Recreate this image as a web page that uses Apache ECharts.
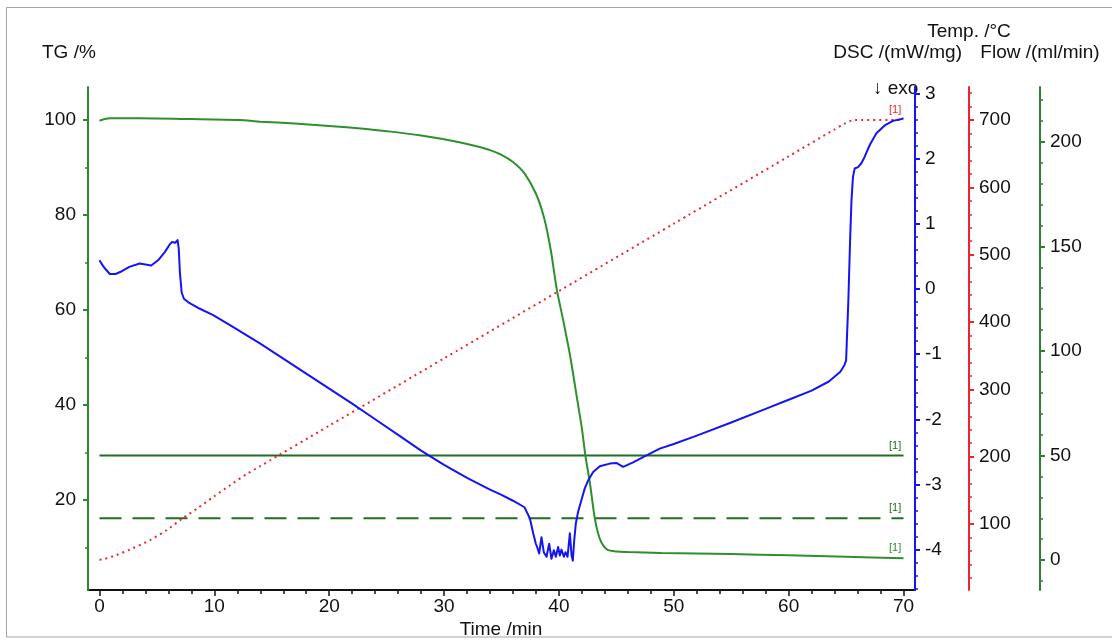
<!DOCTYPE html>
<html>
<head>
<meta charset="utf-8">
<script src="https://cdn.jsdelivr.net/npm/echarts@6/dist/echarts.min.js"></script>
<style>
  html, body { margin: 0; padding: 0; background: #ffffff; }
  #chart { width: 1112px; height: 644px; }
</style>
</head>
<body>
<div id="chart"></div>
<script>
// ---------- measured curves (time in min) ----------
// TG mass curve, %
const tgTime = [0, 0.9, 3.5, 7.9, 12.2, 14, 17, 20, 23, 25, 28, 30, 32, 33, 34, 35, 36, 37, 38, 38.7,
  39.3, 39.8, 40.4, 41.0, 41.6, 42.0, 42.3, 42.7, 43.1, 43.4, 43.7, 44.2, 45.0, 46, 48.9, 52, 55, 60, 65, 70];
const tgMass = [99.9, 100.4, 100.4, 100.25, 100.05, 99.7, 99.3, 98.8, 98.2, 97.7, 96.8, 96.0, 95.0, 94.4, 93.7, 92.7, 91.2, 88.8, 84.5, 79.5,
  72.5, 64.5, 57.5, 50.0, 41.0, 35.0, 29.4, 23.5, 16.4, 13.0, 11.0, 9.5, 9.1, 9.0, 8.8, 8.7, 8.6, 8.3, 8.0, 7.7];

// DSC heat flow, mW/mg
const dscTime = [0.0, 0.25, 0.5, 0.9, 1.4, 1.8, 2.6, 3.5, 4.5, 5.1, 5.7, 6.1, 6.3, 6.45, 6.6, 6.8, 6.9, 7.0, 7.15, 7.35,
  7.7, 8.7, 9.9, 11.4, 14, 16, 18, 20, 22, 24, 26, 28, 30, 32, 34, 35, 36, 37, 37.47, 37.76,
  37.99, 38.1, 38.28, 38.48, 38.68, 38.92, 39.15, 39.35, 39.56, 39.73, 39.93, 40.08, 40.22, 40.43, 40.57, 40.75, 40.95, 41.1, 41.21, 41.33,
  41.47, 41.67, 41.82, 41.96, 42.25, 42.54, 42.98, 43.56, 44.43, 45.0, 45.59, 46.46, 47.33, 48.78, 50, 52, 55, 58, 60, 62,
  63.5, 64.5, 64.85, 65.0, 65.2, 65.35, 65.47, 65.6, 65.75, 66.04, 66.33, 66.62, 67.06, 67.64, 68.36, 69.08, 69.82, 70.0];
const dscValue = [0.44, 0.37, 0.31, 0.23, 0.23, 0.26, 0.34, 0.39, 0.36, 0.44, 0.57, 0.68, 0.72, 0.74, 0.71, 0.75, 0.62, 0.26, -0.05, -0.15,
  -0.2, -0.30, -0.40, -0.56, -0.84, -1.07, -1.30, -1.53, -1.76, -2.00, -2.24, -2.48, -2.70, -2.90, -3.08, -3.16, -3.25, -3.35, -3.52, -3.75,
  -3.91, -3.96, -4.06, -3.81, -4.04, -4.11, -3.91, -4.14, -4.01, -4.11, -3.96, -4.09, -4.00, -4.11, -4.04, -4.11, -3.75, -4.09, -4.17, -3.86,
  -3.60, -3.42, -3.40, -3.24, -3.06, -2.94, -2.81, -2.72, -2.68, -2.67, -2.73, -2.66, -2.58, -2.45, -2.38, -2.25, -2.05, -1.84, -1.70, -1.56,
  -1.42, -1.27, -1.17, -1.10, -0.17, 0.75, 1.36, 1.72, 1.85, 1.87, 1.93, 2.03, 2.21, 2.39, 2.51, 2.58, 2.61, 2.62];

// furnace temperature, °C
const tempTime = [0, 0.3, 1.5, 2.9, 4.4, 5.85, 7.2, 8.5, 9.9, 11.4, 12.8, 14, 20, 30, 40, 50, 60, 64, 64.8, 65.3, 65.7, 70];
const tempValue = [47, 47.5, 54, 64, 76, 91, 108, 123, 140, 158, 174, 186, 246, 346, 446, 546, 646, 686, 694, 698, 700, 700];

// gas flows, ml/min
const flowTime = [0, 70];
const purgeFlow = [50, 50];
const protectiveFlow = [20, 20];

// ---------- tick labels ----------
const timeTicks = [0, 10, 20, 30, 40, 50, 60, 70];
const tgTicks = [20, 40, 60, 80, 100];
const dscTicks = [-4, -3, -2, -1, 0, 1, 2, 3];
const tempTicks = [100, 200, 300, 400, 500, 600, 700];
const flowTicks = [0, 50, 100, 150, 200];

// ---------- axis extents and minor steps ----------
const X_RANGE = [-1, 71], X_MINOR = 2;
const TG_RANGE = [1, 107], TG_MINOR = 10;
const DSC_RANGE = [-4.62, 3.1], DSC_MINOR = 0.2;
const TEMP_RANGE = [2, 749], TEMP_MINOR = 20;
const FLOW_RANGE = [-14.3, 226.2], FLOW_MINOR = 10;

const FONT = '"Liberation Sans", Arial, Helvetica, sans-serif';
const C_TG = '#2f8f2f';
const C_TG_AXIS = '#2c8a2c';
const C_FLOW = '#236d23';
const C_FLOW_AXIS = '#2f7d34';
const C_DSC = '#1414f5';
const C_TEMP = '#ee2530';

function minorValues(range, step, majors) {
  const out = [];
  const k0 = Math.ceil(range[0] / step - 1e-9), k1 = Math.floor(range[1] / step + 1e-9);
  for (let k = k0; k <= k1; k++) {
    const v = +(k * step).toFixed(6);
    if (!majors.some(m => Math.abs(m - v) < 1e-6)) out.push(v);
  }
  return out;
}
const pairs = (xs, ys) => xs.map((x, i) => [x, ys[i]]);

// each scale gets a labelled axis plus a twin that carries the short minor ticks
function yAxisPair(range, majors, step, color, position, offset, margin) {
  const base = {
    type: 'value', position: position, offset: offset,
    min: range[0], max: range[1], z: 3,
    splitLine: { show: false }
  };
  const main = Object.assign({}, base, {
    axisLine: { show: true, onZero: false, lineStyle: { color: color, width: 2 } },
    axisTick: { show: true, customValues: majors, length: 5, lineStyle: { color: color, width: 2 } },
    axisLabel: { show: true, customValues: majors, margin: margin, color: '#111', fontSize: 19, fontFamily: FONT }
  });
  const minor = Object.assign({}, base, {
    axisLine: { show: false, onZero: false },
    axisTick: { show: true, customValues: minorValues(range, step, majors), length: 3, lineStyle: { color: color, width: 1.5 } },
    axisLabel: { show: false }
  });
  return [main, minor];
}

const tgAxes = yAxisPair(TG_RANGE, tgTicks, TG_MINOR, C_TG_AXIS, 'left', 0, 12);
const dscAxes = yAxisPair(DSC_RANGE, dscTicks, DSC_MINOR, C_DSC, 'right', 0, 10);
const tempAxes = yAxisPair(TEMP_RANGE, tempTicks, TEMP_MINOR, C_TEMP, 'right', 54, 10);
const flowAxes = yAxisPair(FLOW_RANGE, flowTicks, FLOW_MINOR, C_FLOW_AXIS, 'right', 125, 10);

function endTag(xs, ys, color) {
  const n = xs.length - 1;
  return {
    silent: true,
    symbol: 'rect', symbolSize: 1,
    itemStyle: { color: 'rgba(0,0,0,0)' },
    label: { show: true, formatter: '[1]', position: [-14, -15], color: color, fontSize: 11, fontFamily: FONT },
    data: [{ coord: [xs[n], ys[n]] }]
  };
}

function textEl(text, x, y, align, color, size) {
  return {
    type: 'text', x: x, y: y, silent: true, z: 1,
    style: {
      text: text, fill: color || '#111',
      font: (size || 19) + 'px ' + FONT,
      textAlign: align, textVerticalAlign: 'middle',
      align: align, verticalAlign: 'middle'
    }
  };
}

const chart = echarts.init(document.getElementById('chart'), null, { renderer: 'canvas' });
chart.setOption({
  animation: false,
  backgroundColor: '#ffffff',
  grid: { left: 88, right: 197, top: 87, bottom: 54, containLabel: false, outerBoundsMode: 'none' },
  xAxis: [
    {
      type: 'value', min: X_RANGE[0], max: X_RANGE[1], z: 2,
      axisLine: { show: true, onZero: false, lineStyle: { color: '#111', width: 2 } },
      axisTick: { show: true, customValues: timeTicks, length: 6, lineStyle: { color: '#111', width: 1.5 } },
      axisLabel: { show: true, customValues: timeTicks, margin: 7, color: '#111', fontSize: 19, fontFamily: FONT },
      splitLine: { show: false }
    },
    {
      type: 'value', min: X_RANGE[0], max: X_RANGE[1], position: 'bottom',
      axisLine: { show: false, onZero: false },
      axisTick: { show: true, customValues: minorValues(X_RANGE, X_MINOR, timeTicks), length: 4, lineStyle: { color: '#111', width: 1.5 } },
      axisLabel: { show: false },
      splitLine: { show: false }
    }
  ],
  yAxis: [].concat(tgAxes, dscAxes, tempAxes, flowAxes),
  series: [
    {
      name: 'Flow purge', type: 'line', xAxisIndex: 0, yAxisIndex: 6,
      data: pairs(flowTime, purgeFlow), showSymbol: false, symbol: 'none',
      lineStyle: { color: C_FLOW, width: 2 }, markPoint: endTag(flowTime, purgeFlow, C_FLOW)
    },
    {
      name: 'Flow protective', type: 'line', xAxisIndex: 0, yAxisIndex: 6,
      data: pairs(flowTime, protectiveFlow), showSymbol: false, symbol: 'none',
      lineStyle: { color: C_FLOW, width: 2, type: [22, 11] }, markPoint: endTag(flowTime, protectiveFlow, C_FLOW)
    },
    {
      name: 'Temp.', type: 'line', xAxisIndex: 0, yAxisIndex: 4,
      data: pairs(tempTime, tempValue), showSymbol: false, symbol: 'none', smooth: 0.25,
      lineStyle: { color: C_TEMP, width: 2, type: [2, 4] }, markPoint: endTag(tempTime, tempValue, C_TEMP)
    },
    {
      name: 'TG', type: 'line', xAxisIndex: 0, yAxisIndex: 0,
      data: pairs(tgTime, tgMass), showSymbol: false, symbol: 'none', smooth: 0.25,
      lineStyle: { color: C_TG, width: 2 }, markPoint: endTag(tgTime, tgMass, C_TG)
    },
    {
      name: 'DSC', type: 'line', xAxisIndex: 0, yAxisIndex: 2,
      data: pairs(dscTime, dscValue), showSymbol: false, symbol: 'none', smooth: false,
      lineStyle: { color: C_DSC, width: 2, join: 'round' }
    }
  ],
  graphic: [
    {
      type: 'rect', silent: true, z: 0,
      shape: { x: 6.5, y: 7.5, width: 1120, height: 629.5 },
      style: { fill: 'none', stroke: '#a3a3a3', lineWidth: 1 }
    },
    textEl('TG /%', 42, 53, 'left'),
    textEl('Temp. /°C', 969, 32, 'center'),
    textEl('DSC /(mW/mg)', 962, 53, 'right'),
    textEl('Flow /(ml/min)', 1040, 53, 'center'),
    textEl('↓ exo', 873, 89, 'left'),
    textEl('Time /min', 501, 630, 'center')
  ]
});
</script>
</body>
</html>
